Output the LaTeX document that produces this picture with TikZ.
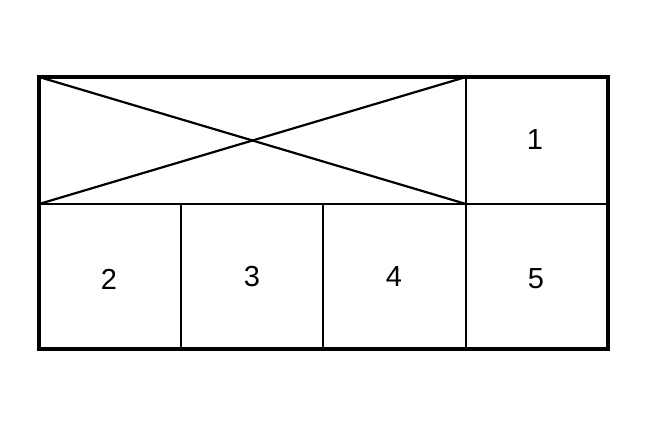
\documentclass[tikz,border=0pt]{standalone}
\usepackage{fontspec}
\setmainfont{Liberation Sans}
\begin{document}
\begin{tikzpicture}
        [x=1pt, y=-1pt,
        frame/.style={line width=3.5pt, line cap=rect},
        grid/.style={line width=2.2pt},
        num/.style={font=\fontsize{29}{29}\selectfont, inner sep=0pt}]
        \useasboundingbox (0,0) rectangle (647,426);
        % corners of the box
        \coordinate (NW) at (39,77);
        \coordinate (NE) at (608,77);
        \coordinate (SW) at (39,349);
        \coordinate (SE) at (608,349);
        \coordinate (W) at (39,204);
        \coordinate (E) at (608,204);
        \coordinate (T) at (466,77);
        \coordinate (M) at (466,204);
        \coordinate (B) at (466,349);
        \coordinate (Ma) at (181,204);
        \coordinate (Ba) at (181,349);
        \coordinate (Mb) at (323,204);
        \coordinate (Bb) at (323,349);
        
        \draw[grid] (W) -- (E);
        \draw[grid] (T) -- (B);
        \draw[grid] (Ma) -- (Ba);
        \draw[grid] (Mb) -- (Bb);
        \draw[grid] (NW) -- (M);
        \draw[grid] (W) -- (T);
        \draw[frame] (NW) rectangle (SE);
        
        \node[num] (n1) at (535,140) {1};
        \node[num] (n2) at (109,279) {2};
        \node[num] (n3) at (252,277) {3};
        \node[num] (n4) at (394,277) {4};
        \node[num] (n5) at (536,279) {5};
    
    \end{tikzpicture}
\end{document}
